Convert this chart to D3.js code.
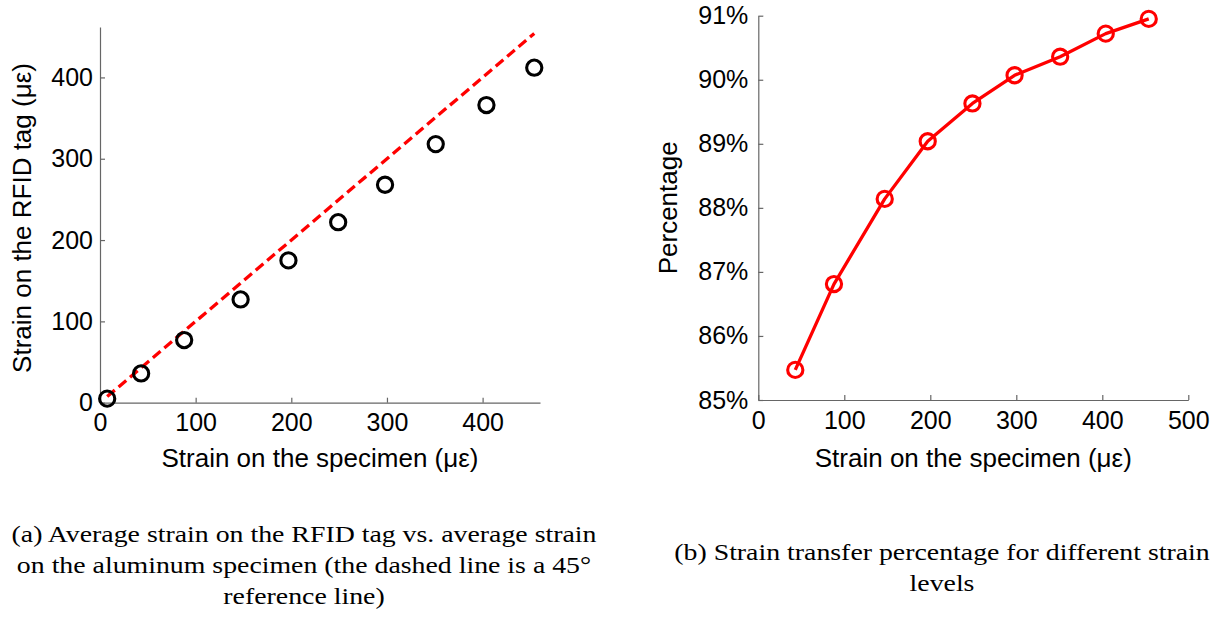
<!DOCTYPE html>
<html>
<head>
<meta charset="utf-8">
<script src="https://cdn.jsdelivr.net/npm/d3@7"></script>
<style>
  body { margin: 0; background: #fff; }
  svg { display: block; }
  .tick text { font-family: "Liberation Sans", Arial, sans-serif; font-size: 25px; fill: #000; }
  .axis path, .axis line { stroke: #666; stroke-width: 1.2; }
  .title { font-family: "Liberation Sans", Arial, sans-serif; font-size: 26px; fill: #000; }
  .caption { font-family: "Liberation Serif", "Times New Roman", serif; font-size: 23px; fill: #000; }
</style>
</head>
<body>
<svg id="chart" width="1221" height="619"></svg>
<script>
// ---- data ----
const specimenStrain = [7.5, 43, 88, 147, 197, 249, 298, 351, 404, 454];
const tagStrain = [5, 36, 77, 127, 175, 222, 268, 318, 366, 412];
const transferStrain = [43, 88, 147, 197, 249, 298, 351, 404, 454];
const transferPct = [85.47, 86.81, 88.14, 89.04, 89.63, 90.07, 90.36, 90.72, 90.95];
const xTicksA = [0, 100, 200, 300, 400];
const yTicksA = [0, 100, 200, 300, 400];
const xTicksB = [0, 100, 200, 300, 400, 500];
const yTicksB = [85, 86, 87, 88, 89, 90, 91];
const xTitle = "Strain on the specimen (\u03bc\u03b5)";
const yTitleA = "Strain on the RFID tag (\u03bc\u03b5)";
const yTitleB = "Percentage";
const captionA = ["(a) Average strain on the RFID tag vs. average strain",
                  "on the aluminum specimen (the dashed line is a 45\u00b0",
                  "reference line)"];
const captionB = ["(b) Strain transfer percentage for different strain",
                  "levels"];

const svg = d3.select("#chart");

// ---- chart (a) ----
const xA = d3.scaleLinear().domain([0, 460]).range([100, 540]);
const yA = d3.scaleLinear().domain([0, 462]).range([402.7, 27]);

svg.append("g").attr("class", "axis")
  .attr("transform", `translate(0,${yA(0)})`)
  .call(d3.axisBottom(xA).tickValues(xTicksA).tickSizeInner(-5).tickSizeOuter(0).tickPadding(11).tickFormat(d3.format("d")));
svg.append("g").attr("class", "axis")
  .attr("transform", `translate(${xA(0)},0)`)
  .call(d3.axisLeft(yA).tickValues(yTicksA).tickSizeInner(-5).tickSizeOuter(0).tickPadding(7).tickFormat(d3.format("d")));

const ext = d3.extent(specimenStrain);
svg.append("line")
  .attr("x1", xA(ext[0])).attr("y1", yA(ext[0]))
  .attr("x2", xA(ext[1])).attr("y2", yA(ext[1]))
  .attr("stroke", "#ff0000").attr("stroke-width", 3.3)
  .attr("stroke-dasharray", "10,5");

svg.append("g").selectAll("circle")
  .data(specimenStrain.map((d, i) => [d, tagStrain[i]]))
  .join("circle")
  .attr("cx", d => xA(d[0])).attr("cy", d => yA(d[1]))
  .attr("r", 7.6).attr("fill", "none").attr("stroke", "#000").attr("stroke-width", 3.1);

svg.append("text").attr("class", "title")
  .attr("x", (xA.range()[0] + xA.range()[1]) / 2).attr("y", 467)
  .attr("text-anchor", "middle").text(xTitle);
svg.append("text").attr("class", "title")
  .attr("transform", `translate(31,218) rotate(-90)`)
  .attr("text-anchor", "middle").text(yTitleA);

// ---- chart (b) ----
const xB = d3.scaleLinear().domain([0, 500]).range([758.3, 1188.3]);
const yB = d3.scaleLinear().domain([85, 91]).range([400, 15.7]);

svg.append("g").attr("class", "axis")
  .attr("transform", `translate(0,${yB(85)})`)
  .call(d3.axisBottom(xB).tickValues(xTicksB).tickSizeInner(-5).tickSizeOuter(0).tickPadding(11).tickFormat(d3.format("d")));
svg.append("g").attr("class", "axis")
  .attr("transform", `translate(${xB(0)},0)`)
  .call(d3.axisLeft(yB).tickValues(yTicksB).tickSizeInner(-5).tickSizeOuter(0).tickPadding(10).tickFormat(d => d + "%"));

const ptsB = transferStrain.map((d, i) => [d, transferPct[i]]);
svg.append("path").datum(ptsB)
  .attr("d", d3.line().x(d => xB(d[0])).y(d => yB(d[1])))
  .attr("fill", "none").attr("stroke", "#ff0000").attr("stroke-width", 3.3).attr("stroke-linejoin", "round");
svg.append("g").selectAll("circle")
  .data(ptsB).join("circle")
  .attr("cx", d => xB(d[0])).attr("cy", d => yB(d[1]))
  .attr("r", 7.6).attr("fill", "none").attr("stroke", "#ff0000").attr("stroke-width", 3.1);

svg.append("text").attr("class", "title")
  .attr("x", (xB.range()[0] + xB.range()[1]) / 2).attr("y", 467)
  .attr("text-anchor", "middle").text(xTitle);
svg.append("text").attr("class", "title")
  .attr("transform", `translate(677,${(yB.range()[0] + yB.range()[1]) / 2}) rotate(-90)`)
  .attr("text-anchor", "middle").text(yTitleB);

// ---- captions (horizontally stretched like the source, kept inside the page) ----
const capStretch = 1.21;
svg.append("g").attr("transform", `translate(304,0) scale(${capStretch},1)`)
  .selectAll("text").data(captionA).join("text")
  .attr("class", "caption").attr("x", 0).attr("y", (d, i) => 542 + i * 31)
  .attr("text-anchor", "middle").text(d => d);
svg.append("g").attr("transform", `translate(942,0) scale(${capStretch},1)`)
  .selectAll("text").data(captionB).join("text")
  .attr("class", "caption").attr("x", 0).attr("y", (d, i) => 560 + i * 31)
  .attr("text-anchor", "middle").text(d => d);
</script>
</body>
</html>
